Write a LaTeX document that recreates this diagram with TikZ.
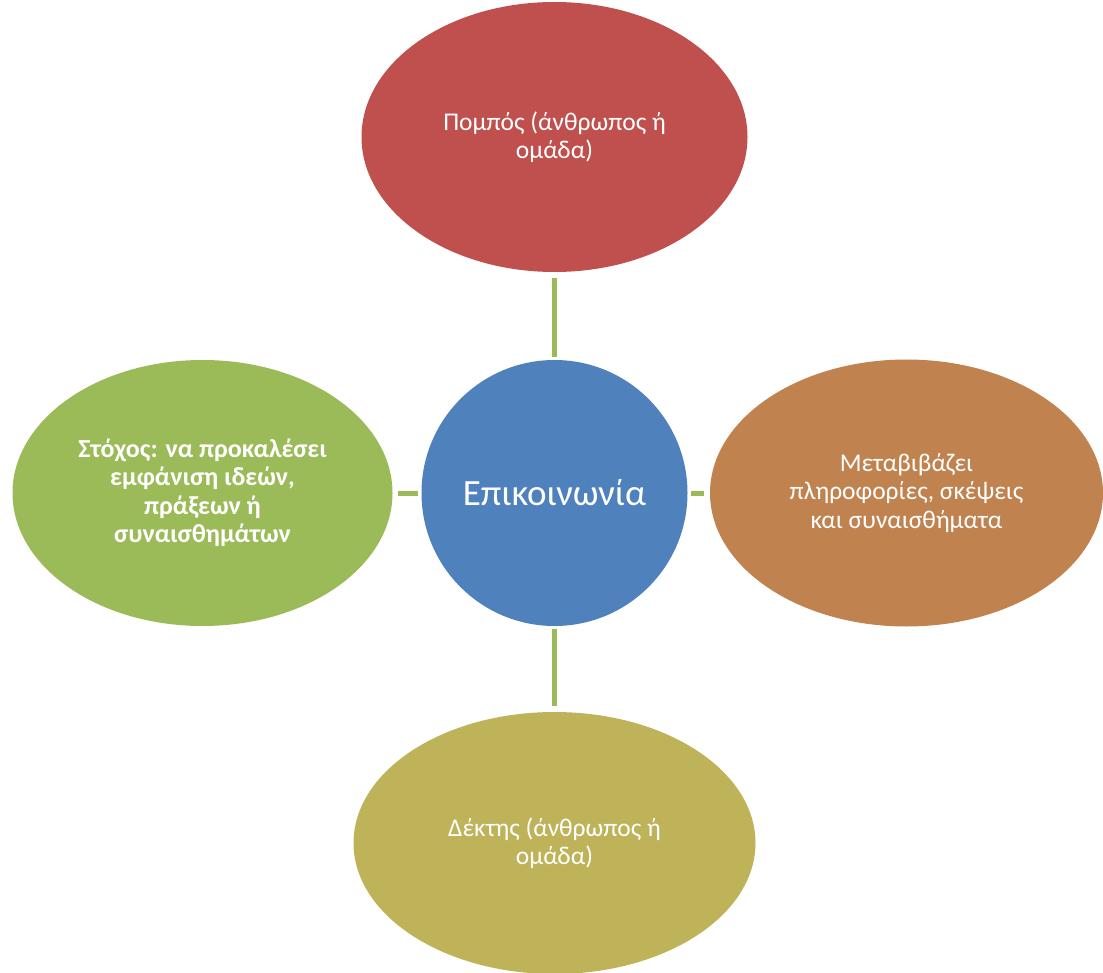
\documentclass[tikz,border=0pt]{standalone}
\usepackage{fontspec}
\setmainfont{Carlito}
\usepackage{xcolor}
\usetikzlibrary{shapes.geometric}

\definecolor{pomposred}{HTML}{C0504D}
\definecolor{epikblue}{HTML}{4F81BD}
\definecolor{metabrown}{HTML}{C0834F}
\definecolor{stoxosgreen}{HTML}{9BBB59}
\definecolor{dektisolive}{HTML}{BFB35A}
\definecolor{linkgreen}{HTML}{9BBB59}

\begin{document}
\begin{tikzpicture}[x=1pt,y=-1pt,
		bubble/.style={ellipse,draw=none,inner sep=0pt,text=white,align=center,
			font=\fontsize{25.5}{28.5}\selectfont},
		link/.style={draw=linkgreen,line width=5pt,shorten <=3pt,shorten >=5.5pt}]
						\useasboundingbox (0,0) rectangle (1103,973);
						
						\coordinate (C) at (554.5,493);
						\coordinate (T) at (554.5,137);
						\coordinate (R) at (906.5,493);
						\coordinate (B) at (554.5,843);
						\coordinate (L) at (202.5,493);
						
						\node[bubble,circle,fill=epikblue,minimum size=266pt,
							font=\fontsize{37}{42}\selectfont] (epik) at (C) {Επικοινωνία};
						\node[bubble,fill=pomposred,minimum width=386pt,minimum height=270pt] (pompos) at (T)
							{Πομπός (άνθρωπος ή\\ομάδα)};
						\node[bubble,fill=metabrown,minimum width=393pt,minimum height=267pt] (meta) at (R)
							{Μεταβιβάζει\\πληροφορίες, σκέψεις\\και συναισθήματα};
						\node[bubble,fill=dektisolive,minimum width=402pt,minimum height=262pt] (dektis) at (B)
							{Δέκτης (άνθρωπος ή\\ομάδα)};
						\node[bubble,fill=stoxosgreen,minimum width=380pt,minimum height=266pt,
							font=\fontsize{26}{28.5}\selectfont\bfseries] (stoxos) at (L)
							{Στόχος: να προκαλέσει\\εμφάνιση ιδεών,\\πράξεων ή\\συναισθημάτων};
						
						\draw[link] (epik) -- (pompos);
						\draw[link] (epik) -- (meta);
						\draw[link] (epik) -- (dektis);
						\draw[link] (epik) -- (stoxos);
					\end{tikzpicture}
\end{document}
